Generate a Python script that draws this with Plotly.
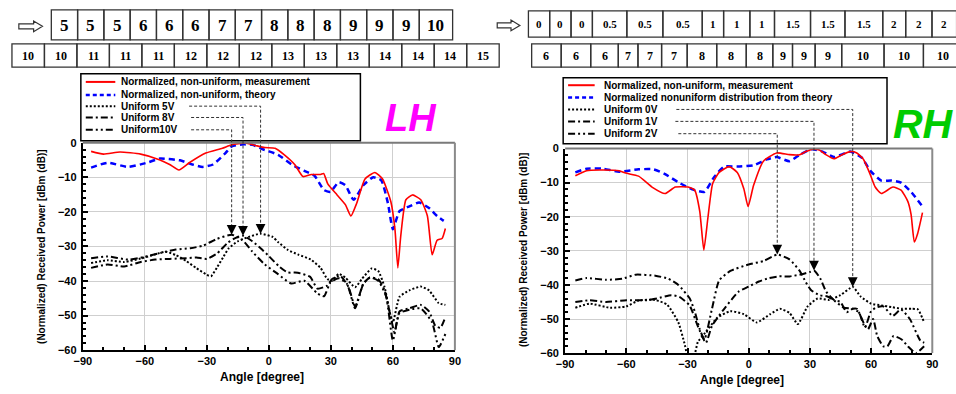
import plotly.graph_objects as go

# ======================= DATA =======================
# LH panel
lh_meas_ang = [-86, -80, -72, -62, -53, -48, -43.5, -38.5, -30.5, -22.5, -18, -11.5, -6.5, -2, 3, 7.5, 12.5, 16.5,
               20.5, 25, 26.5, 28.5, 33, 37, 39.7, 42.5, 46.5, 51.3, 55, 59, 61, 62.4, 63.8, 66.3, 69.5, 73.5,
               76.7, 79, 81.4, 83.8, 85.4]
lh_meas_val = [-2.5, -3.3, -2.7, -3.3, -4.9, -6.3, -7.9, -5.8, -3.0, -1.6, -0.6, -0.1, -0.8, -1.4, -1.6, -3.5,
               -6.3, -9.8, -9.2, -9.2, -8.9, -11.9, -15.1, -17.9, -21.2, -17.5, -10.5, -8.6, -10.5, -17, -25,
               -36.2, -27, -16.5, -15.1, -16.5, -21.2, -32.4, -28.2, -27.7, -24.8]

lh_theo_ang = [-86, -78, -68, -59, -52.7, -43, -37, -32, -27, -21, -18, -13, -8, -2, 4.5, 11, 17, 22, 26.7,
               29.8, 33.8, 37, 41, 45.7, 50.5, 54.4, 57.6, 60, 63.2, 68, 72.7, 77.5, 81.4, 84.6]
lh_theo_val = [-7.2, -5.8, -7.0, -5.8, -4.6, -5.1, -6.3, -7.0, -6.3, -3.0, -1.1, -0.5, -0.6, -2.1, -3.5, -6.3,
               -8.1, -9.5, -13.7, -14.2, -11.4, -12.3, -16.5, -12.3, -10.0, -10.9, -17.5, -25, -19.8, -18.4,
               -17.3, -18.9, -21.2, -22.6]

lh_5v_ang = [-86, -78, -70, -62, -55, -50, -45, -40, -35, -30, -28, -25, -22, -19.5, -15, -10, -4, 2, 4.4, 9.2,
             14, 20.3, 25, 28.3, 30.6, 33.8, 37, 41.7, 45, 49.7, 52.9, 56, 58.4, 60, 63.2, 68, 73.5, 77.5, 82.2, 85.4]
lh_5v_val = [-34.8, -34.0, -34.5, -33.5, -32.3, -31.5, -32.5, -34.2, -36.3, -38.2, -38.6, -36.0, -33.0, -30.6,
             -28.5, -27.3, -26.3, -27.3, -28.7, -31.0, -32.3, -33.8, -36.2, -39.4, -39.9, -37.9, -39.0, -41.8,
             -39.4, -36.4, -37.1, -41.8, -48.8, -52.0, -44.6, -42.7, -41.6, -42.7, -46.4, -46.9]

lh_8v_ang = [-86, -78, -70, -62, -55, -48, -40, -35, -30, -25, -20, -16, -12.5, -8, -4, 0, 5, 9, 14, 20, 23.5,
             28.3, 30.6, 34.6, 38.6, 41.7, 45.7, 48.9, 52.9, 56, 59.2, 60.8, 63.2, 68, 73.5, 77.5, 80.6, 83, 85.4]
lh_8v_val = [-36.2, -35.2, -35.8, -34.5, -33.8, -33.6, -33.4, -33.2, -33.6, -32.0, -29.0, -27.5, -26.9, -28.5,
             -30.5, -32.8, -35.8, -37.5, -37.6, -38.8, -42.2, -41.3, -39.4, -38.5, -41.8, -47.4, -40.8, -39.0,
             -39.4, -42.7, -51.1, -54.9, -48.8, -47.9, -46.9, -48.8, -53.0, -53.5, -50.4]

lh_10v_ang = [-86, -78, -68, -60, -52, -45, -38, -32, -25, -18, -13, -8, -2, 4, 10.8, 17.1, 23.5, 26.7, 29.8,
              33.8, 37.8, 41.7, 45.7, 48.9, 52.9, 56.8, 60, 63.2, 68, 73.5, 79, 82.2, 85.4]
lh_10v_val = [-33.4, -32.9, -33.8, -33.0, -31.8, -30.9, -30.5, -29.8, -27.8, -26.6, -28.0, -31.5, -35.2, -37.8,
              -40.7, -39.9, -43.6, -44.4, -40.4, -39.2, -40.8, -47.9, -40.8, -39.0, -39.9, -44.6, -57.2, -49.3,
              -48.3, -47.9, -52.0, -59.1, -55.3]

# RH panel
rh_meas_ang = [-85, -79.5, -73, -63.5, -60.3, -54, -47.4, -41, -36, -29.7, -26.5, -24, -22, -20, -17.7, -14.5,
               -9.6, -5.6, -2.4, -0.3, 2.4, 7.2, 13.7, 20, 25, 28, 31.3, 34.6, 37.8, 41.8, 45.8, 49.8, 53, 56.3,
               59.5, 62, 65, 70.7, 74.7, 78, 79.6, 81.2, 82.8, 85.2]
rh_meas_val = [-8.0, -6.5, -6.3, -6.5, -7.2, -8.1, -11.3, -13.2, -11.3, -11.3, -12.2, -18.4, -29.8, -20.3, -10.3,
               -7.0, -5.3, -7.0, -11.8, -17.0, -10.8, -3.7, -1.3, -1.8, -1.8, -0.9, -0.2, -0.4, -1.8, -3.0, -1.8,
               -0.9, -1.3, -3.2, -7.5, -11.3, -13.2, -11.3, -12.2, -15.5, -19.3, -27.4, -25.0, -18.8]

rh_theo_ang = [-85, -79.5, -71.5, -63.5, -54, -46.6, -41, -34.5, -28, -21.7, -17, -12, -5.6, 2.4, 8.8, 13.7, 20,
               25, 28, 31.3, 36.2, 41.8, 49.8, 55.5, 59.5, 65, 70, 74.7, 79.6, 85.2]
rh_theo_val = [-7.0, -5.9, -5.9, -6.8, -6.1, -6.1, -7.5, -9.9, -11.9, -12.7, -8.4, -5.3, -5.3, -4.9, -3.2, -2.5,
               -3.7, -1.8, -0.9, -0.2, -0.9, -2.5, -0.9, -2.7, -6.5, -9.4, -9.4, -10.0, -12.7, -17.0]

rh_0v_ang = [-85, -78, -68, -60, -54, -46, -40, -34.5, -31.3, -29.5, -27.3, -24.9, -21.7, -15.3, -9, -2.4, 4,
             10.5, 15.3, 20, 24.1, 28.9, 33.8, 39.4, 45, 51, 55, 60, 65, 70, 75, 80, 83, 86]
rh_0v_val = [-46.7, -45.5, -46.7, -46.3, -44.6, -44.4, -45.8, -51.0, -57.6, -62, -62, -56.7, -54.3, -49.6, -47.7,
             -48.6, -51.0, -48.6, -47.0, -48.2, -51.5, -46.3, -44.0, -44.4, -43.0, -40.6, -43.5, -45.5, -46.0,
             -46.5, -47.0, -47.0, -47.2, -51.0]

rh_1v_ang = [-85, -78, -70, -60, -50, -45, -38, -34, -29, -25, -21, -18, -12, -5, 0, 5, 10, 15, 20, 25, 30, 32,
             35, 38, 42, 45, 48, 51, 53, 57, 58.5, 61, 63, 66, 68, 71, 75, 78, 82, 86]
rh_1v_val = [-45, -44.5, -45, -44.5, -44.5, -44, -43, -43.5, -46, -52, -57, -52, -47, -42, -40.5, -39, -38, -37.5,
             -37.5, -37, -36.2, -35.8, -38, -42, -44.5, -45, -48, -47, -47, -52, -53, -50, -55, -58, -58, -55,
             -56, -58, -60, -58]

rh_2v_ang = [-85, -79.5, -70, -62, -55.4, -45.8, -39.4, -34.5, -28.9, -26.5, -24, -21.7, -18, -14.5, -9, 0, 7.2,
             14, 20, 25, 28, 30.5, 34.6, 38.6, 42.6, 46.6, 51, 54, 57, 60, 63, 66, 70.6, 74.6, 79, 84, 86]
rh_2v_val = [-38.7, -38.0, -38.5, -38.2, -37.0, -37.3, -38.2, -40.0, -44.0, -47.7, -53.0, -56, -47, -38.7, -35.9,
             -34.0, -33.0, -31.1, -32.5, -35.9, -39.2, -41.5, -43.0, -43.4, -44.9, -46.7, -47, -48, -52.5, -47.7,
             -46.5, -46.3, -49.1, -47.2, -50.0, -56.2, -57]

# legend labels
lh_labels = ["Normalized, non-uniform, measurement", "Normalized, non-uniform, theory",
             "Uniform 5V", "Uniform 8V", "Uniform10V"]
rh_labels = ["Normalized, non-uniform, measurement", "Normalized nonuniform distribution from theory",
             "Uniform 0V", "Uniform 1V", "Uniform 2V"]

# tables
table_lh_top = ["5", "5", "5", "6", "6", "6", "7", "7", "8", "8", "8", "9", "9", "9", "10"]
table_lh_bottom = ["10", "10", "11", "11", "11", "12", "12", "12", "13", "13", "13", "14", "14", "14", "15"]
table_rh_top = ["0", "0", "0", "0.5", "0.5", "0.5", "1", "1", "1", "1.5", "1.5", "1.5", "2", "2", "2"]
table_rh_bottom = ["6", "6", "6", "7", "7", "7", "8", "8", "8", "9", "9", "9", "10", "10", "10"]

x_ticks = [-90, -60, -30, 0, 30, 60, 90]
y_ticks = [0, -10, -20, -30, -40, -50, -60]

# ======================= LAYOUT GEOMETRY (pixels) =======================
W, H = 956, 394
L_FX, L_FY = (75, 453), (141, 355)
R_FX, R_FY = (565, 938), (147, 358)
XR, YR = (-90, 90), (-60, 0)


def px(x):
    return x / W


def py(y):
    return 1 - y / H


def d2pix(ang, val, fx, fy):
    X = fx[0] + (ang - XR[0]) / (XR[1] - XR[0]) * (fx[1] - fx[0])
    Y = fy[0] + (YR[1] - val) / (YR[1] - YR[0]) * (fy[1] - fy[0])
    return X, Y


FONT = "Arial, Liberation Sans, sans-serif"
SERIF = "Times New Roman, Liberation Serif, serif"

DOT = "2px,2px"
DASHDOT = "7px,3px,2px,3px"
DASHDOTDOT = "7px,3px,2px,3px,2px,3px"
BLUEDASH = "6px,4px"

fig = go.Figure()


def add(ang, val, color, width, dash, xa, ya):
    fig.add_trace(go.Scatter(x=ang, y=val, mode="lines", xaxis=xa, yaxis=ya, showlegend=False,
                             line=dict(color=color, width=width, dash=dash, shape="spline", smoothing=0.5),
                             hoverinfo="x+y"))


# LH
add(lh_5v_ang, lh_5v_val, "black", 2, DOT, "x", "y")
add(lh_8v_ang, lh_8v_val, "black", 2, DASHDOT, "x", "y")
add(lh_10v_ang, lh_10v_val, "black", 2, DASHDOTDOT, "x", "y")
add(lh_theo_ang, lh_theo_val, "#0000FF", 2.5, BLUEDASH, "x", "y")
add(lh_meas_ang, lh_meas_val, "#FF0000", 1.6, "solid", "x", "y")
# RH
add(rh_0v_ang, rh_0v_val, "black", 2, DOT, "x2", "y2")
add(rh_1v_ang, rh_1v_val, "black", 2, DASHDOT, "x2", "y2")
add(rh_2v_ang, rh_2v_val, "black", 2, DASHDOTDOT, "x2", "y2")
add(rh_theo_ang, rh_theo_val, "#0000FF", 2.5, BLUEDASH, "x2", "y2")
add(rh_meas_ang, rh_meas_val, "#FF0000", 1.6, "solid", "x2", "y2")


def xaxis_cfg(fx, anchor):
    return dict(domain=[px(fx[0]), px(fx[1])], anchor=anchor, range=list(XR), tickvals=x_ticks,
                ticks="inside", ticklen=5, tickwidth=1.5, tickcolor="black",
                minor=dict(dtick=10, ticks="inside", ticklen=3, tickcolor="black", showgrid=False),
                showgrid=True, gridcolor="#CFCFCF", gridwidth=1.2, zeroline=False,
                showline=True, linecolor="black", linewidth=2, mirror=False,
                tickfont=dict(family=FONT, size=11, color="black", weight="bold"), fixedrange=True)


def yaxis_cfg(fy, anchor):
    return dict(domain=[py(fy[1]), py(fy[0])], anchor=anchor, range=list(YR), tickvals=y_ticks,
                ticks="inside", ticklen=5, tickwidth=1.5, tickcolor="black",
                minor=dict(dtick=2, ticks="inside", ticklen=3, tickcolor="black", showgrid=False),
                showgrid=True, gridcolor="#CFCFCF", gridwidth=1.2, zeroline=False,
                showline=True, linecolor="black", linewidth=2, mirror=False, ticklabelstandoff=2,
                tickfont=dict(family=FONT, size=11, color="black", weight="bold"), fixedrange=True)


shapes = []
annotations = []

# grey top/right frame lines
for fx, fy in [(L_FX, L_FY), (R_FX, R_FY)]:
    shapes.append(dict(type="line", xref="paper", yref="paper", x0=px(fx[0]), x1=px(fx[1]),
                       y0=py(fy[0]), y1=py(fy[0]), line=dict(color="#7a7a7a", width=2)))
    shapes.append(dict(type="line", xref="paper", yref="paper", x0=px(fx[1]), x1=px(fx[1]),
                       y0=py(fy[0]), y1=py(fy[1]), line=dict(color="#8a8a8a", width=2)))


def text(x, y, s, size=10, color="black", family=FONT, weight="bold", anchor="center", angle=0, style="normal"):
    annotations.append(dict(x=px(x), y=py(y), xref="paper", yref="paper", text=s, showarrow=False,
                            xanchor=anchor, yanchor="middle", textangle=angle,
                            font=dict(family=family, size=size, color=color, weight=weight, style=style)))


# axis titles
text(33, 248, "(Normalized) Received Power [dBm (dB)]", size=10, angle=-90)
text(523, 252, "(Normalized) Received Power [dBm (dB)]", size=10, angle=-90)
text(257, 383, "Angle [degree]", size=12)
text(745, 386, "Angle [degree]", size=12)

# LH / RH big labels
text(408, 116, "LH", size=38, color="#FF00FF", style="italic")
text(929, 122, "RH", size=41, color="#00CC00", style="italic")


# custom legends
def legend(box, sample_x, text_x, rows, labels):
    shapes.append(dict(type="rect", xref="paper", yref="paper", x0=px(box[0]), x1=px(box[1]),
                       y0=py(box[2]), y1=py(box[3]), line=dict(color="black", width=1.5),
                       fillcolor="white", layer="above"))
    styles = [("#FF0000", 2, "solid"), ("#0000FF", 2.5, "4px,3px"), ("black", 2, DOT),
              ("black", 2, DASHDOT), ("black", 2, DASHDOTDOT)]
    for r, lab, (c, w, d) in zip(rows, labels, styles):
        shapes.append(dict(type="line", xref="paper", yref="paper", x0=px(sample_x[0]), x1=px(sample_x[1]),
                           y0=py(r), y1=py(r), line=dict(color=c, width=w, dash=d)))
        text(text_x, r, lab, size=10, anchor="left")


lh_rows = [78.3, 91.7, 103.3, 115, 127.7]
rh_rows = [81.7, 94.3, 106.7, 119, 131.7]
legend((73, 357, 70, 139), (78, 108), 112, lh_rows, lh_labels)
legend((563, 892, 74, 142), (568, 595), 602, rh_rows, rh_labels)


# leader lines + arrowheads pointing at the main-beam peaks
def leader(angs, vals, row_y, x_start, fx, fy, xa, ya):
    i = max(range(len(vals)), key=lambda k: vals[k])
    pa, pv = angs[i], vals[i]
    X, Y = d2pix(pa, pv, fx, fy)
    path = f"M {px(x_start)},{py(row_y)} L {px(X)},{py(row_y)} L {px(X)},{py(Y - 8)}"
    shapes.append(dict(type="path", xref="paper", yref="paper", path=path,
                       line=dict(color="#333333", width=1, dash="3px,2px")))
    annotations.append(dict(x=pa, y=pv, xref=xa, yref=ya, text="", showarrow=True, ax=0, ay=-9,
                            arrowhead=2, arrowsize=1.5, arrowwidth=1.3, arrowcolor="black"))


leader(lh_5v_ang, lh_5v_val, lh_rows[2], 183, L_FX, L_FY, "x", "y")
leader(lh_8v_ang, lh_8v_val, lh_rows[3], 185, L_FX, L_FY, "x", "y")
leader(lh_10v_ang, lh_10v_val, lh_rows[4], 185, L_FX, L_FY, "x", "y")
leader(rh_0v_ang, rh_0v_val, rh_rows[2], 678, R_FX, R_FY, "x2", "y2")
leader(rh_1v_ang, rh_1v_val, rh_rows[3], 677, R_FX, R_FY, "x2", "y2")
leader(rh_2v_ang, rh_2v_val, rh_rows[4], 680, R_FX, R_FY, "x2", "y2")


# tables
def table(edges, y0, y1, labels, size):
    for k, lab in enumerate(labels):
        a, b = edges[k], edges[k + 1]
        shapes.append(dict(type="rect", xref="paper", yref="paper", x0=px(a), x1=px(b), y0=py(y0), y1=py(y1),
                           line=dict(color="#333333", width=1.3)))
        text((a + b) / 2, (y0 + y1) / 2 + 0.5, lab, size=size, family=SERIF)


lh_top_edges = [43 + 26.7 * i for i in range(15)] + [450.7]
lh_bot_edges = [3 + 33 * i for i in range(16)]
rh_top_edges = [527.7, 549.3, 571, 592.7, 627.7, 664.3, 704.3, 726, 752.7, 777.7, 814.3, 849.3, 887.7, 911,
                937.7, 962.7]
rh_bot_edges = [531, 561, 591, 619, 639, 663, 689, 719, 749, 776, 796, 819, 846, 889, 929, 969]
table(lh_top_edges, 4, 35, table_lh_top, 17)
table(lh_bot_edges, 39, 63, table_lh_bottom, 12)
table(rh_top_edges, 5, 32, table_rh_top, 11)
table(rh_bot_edges, 39, 63, table_rh_bottom, 12)


def block_arrow(x0, x1, yc, body=2.5, head=5.5, headlen=9):
    xh = x1 - headlen
    pts = [(x0, yc - body), (xh, yc - body), (xh, yc - head), (x1, yc), (xh, yc + head), (xh, yc + body),
           (x0, yc + body)]
    path = "M " + " L ".join(f"{px(a)},{py(b)}" for a, b in pts) + " Z"
    shapes.append(dict(type="path", xref="paper", yref="paper", path=path,
                       line=dict(color="#333333", width=1.2), fillcolor="white"))


block_arrow(10, 34, 21)
block_arrow(496, 519, 20)

fig.update_layout(
    width=W, height=H, margin=dict(l=0, r=0, t=0, b=0), paper_bgcolor="white", plot_bgcolor="white",
    xaxis=xaxis_cfg(L_FX, "y"), yaxis=yaxis_cfg(L_FY, "x"),
    xaxis2=xaxis_cfg(R_FX, "y2"), yaxis2=yaxis_cfg(R_FY, "x2"),
    shapes=shapes, annotations=annotations, showlegend=False,
)

fig.write_html("out.html", config={"displayModeBar": False},
               post_script="document.body.style.margin='0px';document.body.style.overflow='hidden';")
